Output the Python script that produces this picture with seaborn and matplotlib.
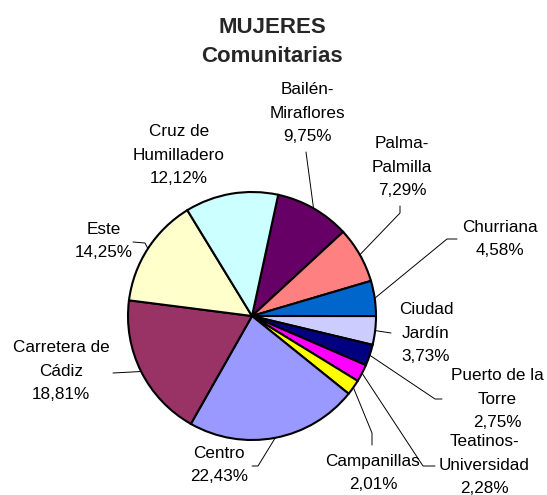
import matplotlib
matplotlib.use("Agg")
import matplotlib.pyplot as plt
import seaborn as sns
import numpy as np

# ---- data ----
categories = ["Bailén-\nMiraflores", "Palma-\nPalmilla", "Churriana", "Ciudad\nJardín",
              "Puerto de la\nTorre", "Teatinos-\nUniversidad", "Campanillas", "Centro",
              "Carretera de\nCádiz", "Este", "Cruz de\nHumilladero"]
values = [9.75, 7.29, 4.58, 3.73, 2.75, 2.28, 2.01, 22.43, 18.81, 14.25, 12.12]
pct_labels = ["9,75%", "7,29%", "4,58%", "3,73%", "2,75%", "2,28%", "2,01%",
              "22,43%", "18,81%", "14,25%", "12,12%"]
colors = ["#660066", "#FF8080", "#0066CC", "#CCCCFF", "#000080", "#FF00FF",
          "#FFFF00", "#9999FF", "#993366", "#FFFFCC", "#CCFFFF"]

sns.set_theme(style="white")
plt.rcParams['font.family'] = ['Liberation Sans', 'DejaVu Sans']

W, H = 547, 495
fig = plt.figure(figsize=(W / 100, H / 100), dpi=100)
ax = fig.add_axes([0, 0, 1, 1])

cx, cy, R = 252, 316, 124
wedges, _ = ax.pie(values, colors=colors, startangle=-77.8, counterclock=True,
                   center=(cx, cy), radius=R, frame=True,
                   wedgeprops=dict(edgecolor="black", linewidth=1.5))
ax.set_xlim(0, W)
ax.set_ylim(H, 0)
ax.axis("off")

# label positions (centre of text block) and leader paths (label side)
label_pos = [(307, 113), (402, 167), (500, 239), (426, 333), (497, 399), (484, 465),
             (373, 473), (219, 465), (61, 371), (104, 241), (179, 155)]
leaders = [[(306, 152)], [(400, 206), (400, 213)], [(457, 239), (447, 239)],
           [(391, 333)], [(442, 399), (435, 399)], [(435, 466), (423, 466)],
           [(372, 445), (372, 433)], [(252, 466), (258, 466)], [(113, 373)],
           [(133, 242), (145, 243)], None]

for w, cat, pct, pos, lead in zip(wedges, categories, pct_labels, label_pos, leaders):
    ax.text(pos[0], pos[1], cat + "\n" + pct, ha="center", va="center",
            fontsize=12.3, linespacing=1.7, color="black")
    if lead is not None:
        mid = np.deg2rad((w.theta1 + w.theta2) / 2)
        ex, ey = cx + R * np.cos(mid), cy + R * np.sin(mid)
        pts = lead + [(ex, ey)]
        xs, ys = zip(*pts)
        ax.plot(xs, ys, color="black", linewidth=0.7)

ax.text(272, 42, "MUJERES\nComunitarias", ha="center", va="center",
        fontsize=16, fontweight="bold", linespacing=1.55)

fig.savefig("out.png", dpi=100, facecolor="white")
